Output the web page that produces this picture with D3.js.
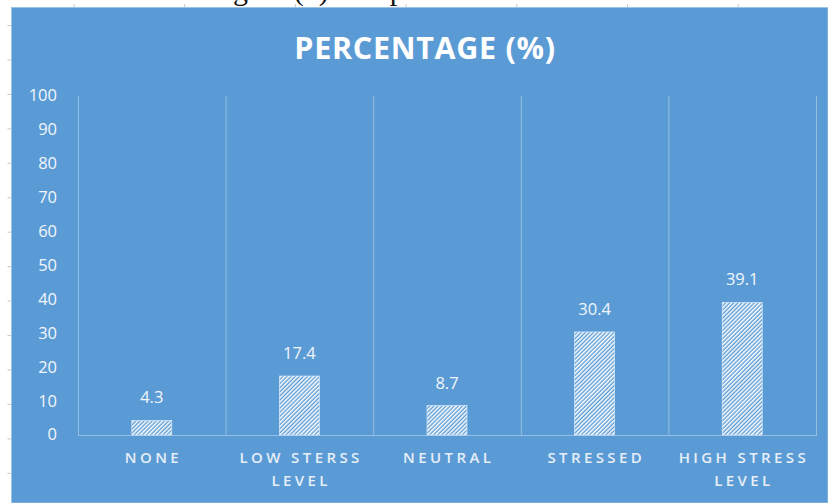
<!DOCTYPE html>
<html><head><meta charset="utf-8">
<script src="https://cdn.jsdelivr.net/npm/d3@7"></script>
<style>
html,body{margin:0;padding:0;background:#fff;}
svg{display:block;}
</style></head>
<body>
<svg id="c" width="828" height="503"></svg>
<script>
const categories = [["NONE"], ["LOW STERSS", "LEVEL"], ["NEUTRAL"], ["STRESSED"], ["HIGH STRESS", "LEVEL"]];
const categoryKeys = ["NONE", "LOW STERSS LEVEL", "NEUTRAL", "STRESSED", "HIGH STRESS LEVEL"];
const values = [4.3, 17.4, 8.7, 30.4, 39.1];
const yTicks = [0, 10, 20, 30, 40, 50, 60, 70, 80, 90, 100];
const title = "PERCENTAGE (%)";
const caption = "Figure (4): Response";

const W = 828, H = 503;
const svg = d3.select("#c");
const font = "'Open Sans', 'Liberation Sans', sans-serif";

// page residue (ruler ticks and cut caption)
svg.append("rect").attr("width", W).attr("height", H).attr("fill", "#fff");
svg.append("text").attr("x", 208).attr("y", 0.3)
  .attr("font-family", "'Liberation Serif', serif").attr("font-size", 30).attr("fill", "#111")
  .text(caption);
const rulerX = d3.range(7).map(i => 74 + i * 110.7);
svg.selectAll(".rx").data(rulerX).join("line")
  .attr("x1", d => d).attr("x2", d => d).attr("y1", 4).attr("y2", 7.5)
  .attr("stroke", "#c8c8c8").attr("stroke-width", 1);
const rulerY = d3.range(14).map(i => 25.5 + i * 34.45);
svg.selectAll(".ry").data(rulerY).join("line")
  .attr("x1", 7.5).attr("x2", 11).attr("y1", d => d).attr("y2", d => d)
  .attr("stroke", "#c8c8c8").attr("stroke-width", 1);

// chart background
svg.append("rect").attr("x", 11.5).attr("y", 7.5).attr("width", W - 11.5).attr("height", H - 7.5)
  .attr("fill", "#5B9BD5").attr("stroke", "#9cc2e6").attr("stroke-width", 1);

// pattern
const defs = svg.append("defs");
const P = 2.9;
const pat = defs.append("pattern").attr("id", "hatch").attr("patternUnits", "userSpaceOnUse")
  .attr("width", P).attr("height", P).attr("patternTransform", "rotate(45)");
pat.append("rect").attr("width", P).attr("height", P).attr("fill", "#5B9BD5");
pat.append("rect").attr("width", 1.5).attr("height", P).attr("fill", "#ffffff");

// title
svg.append("text").attr("x", 425).attr("y", 59).attr("text-anchor", "middle")
  .attr("font-family", font).attr("font-weight", 700).attr("font-size", 30.5)
  .attr("letter-spacing", 0.7)
  .attr("fill", "#ffffff").text(title);

const plot = { left: 78, right: 816, top: 96, bottom: 435 };
const x = d3.scaleBand().domain(categoryKeys).range([plot.left, plot.right]).paddingInner(0).paddingOuter(0);
const y = d3.scaleLinear().domain([0, 100]).range([plot.bottom, plot.top]);

const grid = "rgba(255,255,255,0.35)";
// vertical category separators
const seps = categoryKeys.map(k => x(k)).concat([plot.right]);
svg.selectAll(".sep").data(seps).join("line")
  .attr("x1", d => d + 0.5).attr("x2", d => d + 0.5)
  .attr("y1", plot.top).attr("y2", plot.bottom)
  .attr("stroke", grid).attr("stroke-width", 1);

// y axis labels
const yAxis = d3.axisLeft(y).tickValues(yTicks).tickSize(0).tickPadding(0);
const ga = svg.append("g").attr("transform", `translate(57,0)`).call(yAxis);
ga.select(".domain").remove();
ga.selectAll("text").attr("font-family", font).attr("font-size", 16.5)
  .attr("fill", "#f2f6fb").attr("dy", "0.3em");

// bars
const bw = 40;
svg.selectAll(".bar").data(values).join("rect")
  .attr("x", (d, i) => x(categoryKeys[i]) + x.bandwidth() / 2 - bw / 2)
  .attr("y", d => y(d))
  .attr("width", bw)
  .attr("height", d => y(0) - y(d))
  .attr("fill", "url(#hatch)")
  .attr("stroke", "#eaf2fb").attr("stroke-width", 0.6);

// baseline
svg.append("line").attr("x1", plot.left).attr("x2", plot.right + 1)
  .attr("y1", plot.bottom + 0.5).attr("y2", plot.bottom + 0.5)
  .attr("stroke", grid).attr("stroke-width", 1);

// value labels
svg.selectAll(".val").data(values).join("text")
  .attr("x", (d, i) => x(categoryKeys[i]) + x.bandwidth() / 2)
  .attr("y", d => y(d) - 17)
  .attr("text-anchor", "middle")
  .attr("font-family", font).attr("font-size", 16.5).attr("fill", "#f2f6fb")
  .text(d => d);

// category labels
const ls = 3.4;
const cg = svg.selectAll(".cat").data(categories).join("text")
  .attr("text-anchor", "middle")
  .attr("font-family", font).attr("font-size", 15).attr("font-weight", 600)
  .attr("letter-spacing", ls)
  .attr("fill", "#e6eef8");
cg.each(function(lines, i) {
  const cx = x(categoryKeys[i]) + x.bandwidth() / 2 + ls / 2;
  d3.select(this).selectAll("tspan").data(lines).join("tspan")
    .attr("x", cx).attr("y", (d, j) => 463 + j * 23).text(d => d);
});
</script>
</body></html>
